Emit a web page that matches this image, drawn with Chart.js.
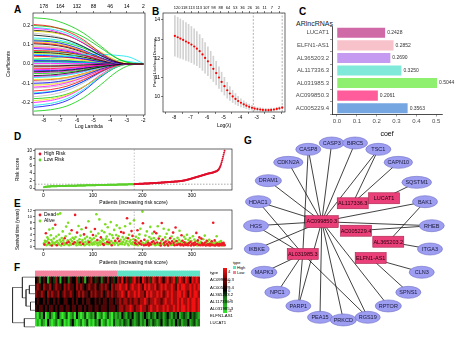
<!DOCTYPE html>
<html>
<head>
<meta charset="utf-8">
<script src="https://cdn.jsdelivr.net/npm/chart.js@4.4.1/dist/chart.umd.min.js"></script>
<style>
  body { margin: 0; width: 474px; height: 342px; position: relative; background: #fff; overflow: hidden;
         font-family: "Liberation Sans", Arial, sans-serif; }
  canvas { position: absolute; }
  .lab { position: absolute; font-weight: bold; font-size: 10px; line-height: 1; }
  .t { position: absolute; font-size: 5px; line-height: 1; white-space: nowrap; color: #000; }
</style>
</head>
<body>
<div class="lab" style="left:14px;top:5px">A</div>
<div class="lab" style="left:152px;top:7px">B</div>
<div class="lab" style="left:299px;top:7px">C</div>
<div class="lab" style="left:14px;top:132px">D</div>
<div class="lab" style="left:14px;top:199px">E</div>
<div class="lab" style="left:14px;top:263px">F</div>
<div class="lab" style="left:244px;top:136px">G</div>
<div class="t" style="left:296px;top:20px;font-size:7px;color:#222">ARlncRNAs</div>

<!-- heatmap colour key and annotation key -->
<div style="position:absolute;left:223px;top:268px;width:4px;height:45px;background:linear-gradient(to bottom,#f01414 0%,#500000 35%,#000 50%,#1c6e1c 65%,#32eb2d 100%)"></div>
<div class="t" style="left:228px;top:270px;font-size:4px">4</div>
<div class="t" style="left:228px;top:280px;font-size:4px">2</div>
<div class="t" style="left:228px;top:289px;font-size:4px">0</div>
<div class="t" style="left:228px;top:299px;font-size:4px">-2</div>
<div class="t" style="left:228px;top:309px;font-size:4px">-4</div>
<div class="t" style="left:233px;top:261px;font-size:4px">type</div>
<div style="position:absolute;left:233px;top:266px;width:3px;height:3px;background:#5fe3c6"></div>
<div class="t" style="left:237px;top:265.5px;font-size:4px">High</div>
<div style="position:absolute;left:233px;top:271px;width:3px;height:3px;background:#f3839c"></div>
<div class="t" style="left:237px;top:270.5px;font-size:4px">Low</div>

<script>
// ---------- A: LASSO coefficient paths ----------
const lambdaSampleA = [-8.6, -7.6, -6.6, -5.6, -4.6, -3.6, -2.8, -2.0];
const lambdaTicksA = [-8, -7, -6, -5, -4, -3, -2];
const topCountsA = ['178', '164', '132', '88', '46', '14', '2'];
const coefPathsA = [
  [0.150, 0.142, 0.125, 0.090, 0.045, 0.010, 0, 0],
  [0.205, 0.196, 0.170, 0.125, 0.060, 0.012, 0, 0],
  [0.240, 0.232, 0.205, 0.160, 0.095, 0.030, 0.005, 0],
  [0.120, 0.116, 0.100, 0.072, 0.035, 0.006, 0, 0],
  [0.025, 0.030, 0.040, 0.048, 0.050, 0.045, 0.035, 0.002],
  [0.185, 0.176, 0.150, 0.108, 0.052, 0.008, 0, 0],
  [0.170, 0.164, 0.146, 0.112, 0.064, 0.018, 0, 0],
  [0.095, 0.090, 0.078, 0.055, 0.026, 0.004, 0, 0],
  [-0.060, -0.057, -0.048, -0.034, -0.016, -0.003, 0, 0],
  [-0.140, -0.133, -0.115, -0.082, -0.040, -0.008, 0, 0],
  [-0.245, -0.238, -0.218, -0.175, -0.110, -0.040, -0.006, 0],
  [-0.100, -0.096, -0.083, -0.060, -0.028, -0.005, 0, 0],
  [-0.215, -0.205, -0.180, -0.132, -0.066, -0.014, 0, 0],
  [-0.030, -0.028, -0.024, -0.016, -0.007, -0.001, 0, 0],
  [-0.080, -0.078, -0.070, -0.052, -0.026, -0.006, 0, 0],
  [-0.170, -0.160, -0.138, -0.098, -0.047, -0.009, 0, 0],
  [0.060, 0.058, 0.050, 0.036, 0.018, 0.003, 0, 0],
  [0.110, 0.104, 0.090, 0.064, 0.030, 0.005, 0, 0],
  [0.200, 0.193, 0.176, 0.140, 0.085, 0.030, 0.006, 0],
  [0.045, 0.043, 0.037, 0.027, 0.012, 0.002, 0, 0],
  [0.135, 0.130, 0.115, 0.088, 0.048, 0.012, 0, 0],
  [-0.120, -0.114, -0.098, -0.070, -0.034, -0.006, 0, 0],
  [-0.190, -0.182, -0.160, -0.118, -0.062, -0.014, 0, 0],
  [0.160, 0.150, 0.128, 0.092, 0.044, 0.008, 0, 0],
  [-0.010, -0.010, -0.008, -0.005, -0.002, 0, 0, 0],
  [0.070, 0.068, 0.060, 0.044, 0.022, 0.004, 0, 0],
  [-0.050, -0.048, -0.042, -0.030, -0.014, -0.002, 0, 0],
  [-0.155, -0.146, -0.126, -0.090, -0.044, -0.008, 0, 0],
  [0.010, 0.010, 0.009, 0.008, 0.012, 0.018, 0.012, 0],
  [0.085, 0.082, 0.071, 0.050, 0.023, 0.004, 0, 0],
  [0.030, 0.029, 0.025, 0.018, 0.008, 0.001, 0, 0],
  [-0.090, -0.086, -0.075, -0.054, -0.026, -0.005, 0, 0],
  [0.105, 0.100, 0.086, 0.060, 0.028, 0.005, 0, 0],
  [-0.025, -0.024, -0.020, -0.014, -0.006, -0.001, 0, 0],
  [0.125, 0.121, 0.108, 0.082, 0.044, 0.010, 0, 0],
  [0.018, 0.017, 0.015, 0.010, 0.005, 0.001, 0, 0],
  [-0.070, -0.067, -0.058, -0.041, -0.019, -0.003, 0, 0],
  [-0.200, -0.190, -0.166, -0.120, -0.058, -0.011, 0, 0],
  [0.055, 0.053, 0.047, 0.034, 0.016, 0.003, 0, 0],
  [-0.125, -0.120, -0.106, -0.078, -0.040, -0.008, 0, 0],
  [-0.040, -0.038, -0.033, -0.023, -0.011, -0.002, 0, 0],
  [0.040, 0.038, 0.034, 0.024, 0.011, 0.002, 0, 0],
  [-0.180, -0.174, -0.156, -0.118, -0.064, -0.016, 0, 0],
  [0.080, 0.076, 0.066, 0.047, 0.022, 0.004, 0, 0],
  [-0.150, -0.143, -0.125, -0.090, -0.044, -0.008, 0, 0],
  [0.003, 0.003, 0.002, 0.002, 0.001, 0, 0, 0],
  [-0.110, -0.106, -0.093, -0.068, -0.033, -0.006, 0, 0],
  [-0.018, -0.017, -0.015, -0.010, -0.005, -0.001, 0, 0],
  [0.175, 0.168, 0.148, 0.108, 0.054, 0.010, 0, 0],
  [-0.085, -0.081, -0.070, -0.050, -0.024, -0.004, 0, 0],
  [0.065, 0.064, 0.058, 0.044, 0.024, 0.006, 0, 0],
  [-0.225, -0.215, -0.190, -0.140, -0.070, -0.015, 0, 0],
  [0.190, 0.182, 0.160, 0.118, 0.060, 0.012, 0, 0],
  [-0.045, -0.043, -0.037, -0.026, -0.012, -0.002, 0, 0],
  [0.115, 0.110, 0.096, 0.068, 0.032, 0.006, 0, 0],
  [-0.005, -0.005, -0.004, -0.003, -0.001, 0, 0, 0],
  [0.012, 0.012, 0.010, 0.007, 0.003, 0, 0, 0],
  [-0.015, -0.014, -0.012, -0.008, -0.004, 0, 0, 0],
  [0.022, 0.021, 0.018, 0.013, 0.006, 0.001, 0, 0],
  [-0.035, -0.034, -0.029, -0.020, -0.009, -0.001, 0, 0],
  [0.050, 0.048, 0.042, 0.030, 0.014, 0.002, 0, 0],
  [-0.065, -0.062, -0.054, -0.038, -0.018, -0.003, 0, 0],
  [0.090, 0.086, 0.075, 0.053, 0.025, 0.004, 0, 0],
  [-0.105, -0.100, -0.087, -0.062, -0.030, -0.005, 0, 0]
];

// ---------- B: cross-validation curve ----------
const lambdaB = [-7.95, -7.78, -7.62, -7.45, -7.28, -7.12, -6.95, -6.78, -6.62, -6.45,
  -6.28, -6.12, -5.95, -5.78, -5.62, -5.45, -5.28, -5.12, -4.95, -4.78,
  -4.62, -4.45, -4.28, -4.12, -3.95, -3.78, -3.62, -3.45, -3.28, -3.12,
  -2.95, -2.78, -2.62, -2.45, -2.28, -2.12, -1.95, -1.78, -1.62, -1.45];
const cvmB = [13.17, 13.10, 13.03, 12.96, 12.88, 12.81, 12.72, 12.62, 12.51, 12.38,
  12.21, 12.03, 11.85, 11.66, 11.46, 11.24, 11.01, 10.78, 10.56, 10.35,
  10.18, 10.03, 9.90, 9.79, 9.70, 9.62, 9.55, 9.49, 9.44, 9.40,
  9.37, 9.35, 9.33, 9.32, 9.32, 9.33, 9.35, 9.38, 9.41, 9.45];
const cvsdB = [1.05, 1.04, 1.02, 1.00, 0.98, 0.96, 0.94, 0.92, 0.89, 0.86,
  0.83, 0.79, 0.75, 0.71, 0.66, 0.61, 0.56, 0.51, 0.46, 0.41,
  0.36, 0.32, 0.28, 0.24, 0.21, 0.18, 0.16, 0.14, 0.12, 0.11,
  0.10, 0.10, 0.09, 0.09, 0.09, 0.09, 0.08, 0.08, 0.08, 0.08];
const lambdaMinB = -3.2;
const lambda1seB = -1.45;
const lambdaTicksB = [-8, -7, -6, -5, -4, -3, -2];
const devianceTicksB = [10, 11, 12, 13, 14];
const topPosB = [-7.82, -7.38, -6.94, -6.50, -6.05, -5.61, -5.17, -4.73, -4.29, -3.85, -3.41, -2.96, -2.52, -2.08, -1.64];
const topCountsB = ['120', '118', '113', '113', '107', '98', '88', '64', '53', '36', '26', '16', '11', '7', '2'];

// ---------- C: coefficients of the signature ----------
const lncNames = ['LUCAT1', 'ELFN1-AS1', 'AL365203.2', 'AL117336.3', 'AL031985.3', 'AC099850.3', 'AC005229.4'];
const coefValues = [0.2428, 0.2852, 0.2690, 0.3250, 0.5044, 0.2061, 0.3563];
const lncColors = ['#d06aa6', '#f8c2cb', '#c49bf0', '#80e9d9', '#8ff06f', '#ff5c9c', '#76a6e2'];
const coefTicks = [0, 0.1, 0.2, 0.3, 0.4, 0.5];

// ---------- D: sorted risk score ----------
const riskLow = [
  0.18, 0.24, 0.28, 0.31, 0.33, 0.35, 0.37, 0.38, 0.39, 0.40,
  0.41, 0.42, 0.43, 0.43, 0.44, 0.45, 0.45, 0.46, 0.46, 0.47,
  0.47, 0.48, 0.48, 0.49, 0.49, 0.50, 0.50, 0.51, 0.51, 0.51,
  0.52, 0.52, 0.53, 0.53, 0.53, 0.54, 0.54, 0.55, 0.55, 0.55,
  0.56, 0.56, 0.56, 0.57, 0.57, 0.57, 0.58, 0.58, 0.58, 0.59,
  0.59, 0.59, 0.60, 0.60, 0.60, 0.61, 0.61, 0.61, 0.62, 0.62,
  0.62, 0.63, 0.63, 0.63, 0.64, 0.64, 0.64, 0.65, 0.65, 0.65,
  0.66, 0.66, 0.66, 0.67, 0.67, 0.67, 0.68, 0.68, 0.68, 0.69,
  0.69, 0.69, 0.70, 0.70, 0.70, 0.71, 0.71, 0.71, 0.72, 0.72,
  0.72, 0.73, 0.73, 0.73, 0.74, 0.74, 0.74, 0.75, 0.75, 0.75,
  0.76, 0.76, 0.76, 0.77, 0.77, 0.77, 0.78, 0.78, 0.78, 0.79,
  0.79, 0.79, 0.80, 0.80, 0.80, 0.80, 0.81, 0.81, 0.81, 0.82,
  0.82, 0.82, 0.83, 0.83, 0.83, 0.84, 0.84, 0.84, 0.85, 0.85,
  0.85, 0.86, 0.86, 0.86, 0.87, 0.87, 0.87, 0.88, 0.88, 0.88,
  0.89, 0.89, 0.89, 0.90, 0.90, 0.90, 0.91, 0.91, 0.91, 0.92,
  0.92, 0.92, 0.93, 0.93, 0.93, 0.94, 0.94, 0.94, 0.95, 0.95,
  0.95, 0.96, 0.96, 0.96, 0.97, 0.97, 0.97, 0.98, 0.98, 0.98,
  0.99, 0.99, 0.99, 1.00, 1.00, 1.00, 1.01, 1.01, 1.01, 1.02,
  1.02, 1.02, 1.03
];
const riskHigh = [
  1.04, 1.05, 1.06, 1.07, 1.08, 1.09, 1.10, 1.10, 1.11, 1.12,
  1.13, 1.13, 1.14, 1.15, 1.15, 1.16, 1.17, 1.17, 1.18, 1.19,
  1.19, 1.20, 1.21, 1.21, 1.22, 1.23, 1.23, 1.24, 1.25, 1.25,
  1.26, 1.27, 1.27, 1.28, 1.29, 1.30, 1.30, 1.31, 1.32, 1.33,
  1.33, 1.34, 1.35, 1.36, 1.37, 1.38, 1.38, 1.39, 1.40, 1.41,
  1.42, 1.43, 1.44, 1.45, 1.46, 1.47, 1.48, 1.49, 1.50, 1.51,
  1.52, 1.53, 1.54, 1.55, 1.56, 1.57, 1.58, 1.59, 1.60, 1.61,
  1.62, 1.63, 1.64, 1.65, 1.66, 1.67, 1.68, 1.69, 1.70, 1.71,
  1.72, 1.73, 1.74, 1.75, 1.76, 1.77, 1.78, 1.79, 1.80, 1.81,
  1.82, 1.84, 1.86, 1.88, 1.90, 1.92, 1.94, 1.96, 1.98, 2.00,
  2.03, 2.06, 2.09, 2.12, 2.15, 2.18, 2.21, 2.24, 2.27, 2.30,
  2.34, 2.38, 2.42, 2.46, 2.50, 2.54, 2.58, 2.62, 2.66, 2.70,
  2.74, 2.78, 2.82, 2.86, 2.90, 2.94, 2.98, 3.02, 3.06, 3.10,
  3.14, 3.18, 3.22, 3.26, 3.30, 3.34, 3.38, 3.42, 3.46, 3.50,
  3.54, 3.58, 3.62, 3.66, 3.70, 3.74, 3.78, 3.82, 3.86, 3.90,
  3.93, 3.96, 3.99, 4.02, 4.05, 4.08, 4.11, 4.14, 4.17, 4.20,
  4.28, 4.32, 4.36, 4.40, 4.45, 4.50, 4.56, 4.63, 4.72, 4.84,
  5.00, 5.20, 5.45, 5.75, 6.10, 6.50, 6.95, 7.40, 7.90, 8.45,
  9.00, 9.55, 10.10
];
const riskCutoff = 1.03;
const riskTicks = [0, 2, 4, 6, 8, 10];
const patientTicks = [0, 100, 200, 300];

// ---------- E: survival time and status (D = dead, A = alive) ----------
const survivalYears = [
  1.2, 0.8, 2.1, 1.5, 4.6, 0.6, 1.9, 3.2, 0.9, 2.6, 1.4, 5.8, 0.7, 1.1, 3.9, 2.3, 0.5, 1.7, 6.2, 1.0,
  2.8, 1.3, 0.9, 7.4, 1.6, 3.5, 0.6, 2.0, 10.9, 1.2, 4.1, 0.8, 2.4, 11.2, 1.8, 0.5, 3.0, 1.1, 5.2, 2.2,
  1.5, 0.7, 2.9, 1.0, 3.6, 6.8, 1.4, 0.9, 2.2, 8.1, 1.7, 0.6, 4.4, 1.3, 2.5, 0.8, 5.6, 1.9, 3.1, 1.1,
  0.9, 2.7, 1.6, 10.7, 3.3, 1.2, 0.6, 4.8, 2.0, 1.4, 7.0, 0.8, 2.6, 1.5, 3.8, 0.7, 5.9, 1.8, 2.3, 1.0,
  1.3, 4.2, 0.6, 2.8, 1.7, 6.4, 0.9, 3.4, 1.1, 2.1, 8.6, 1.6, 0.7, 3.0, 1.9, 5.1, 1.2, 2.5, 0.8, 4.0,
  1.5, 2.9, 0.9, 6.0, 1.8, 3.7, 10.9, 1.2, 2.3, 0.6, 4.5, 1.4, 9.2, 2.0, 0.8, 3.2, 1.6, 5.4, 2.6, 1.0,
  2.2, 0.7, 4.9, 1.3, 7.6, 2.7, 1.0, 3.5, 1.7, 6.6, 0.9, 2.4, 1.5, 4.3, 1.1, 8.3, 2.0, 0.6, 3.9, 1.4,
  3.0, 1.2, 5.7, 0.8, 2.1, 1.6, 4.0, 7.2, 1.3, 2.8, 0.7, 3.6, 1.9, 6.3, 1.0, 2.4, 5.0, 1.5, 0.9, 3.3,
  1.7, 4.7, 2.5, 0.8, 6.9, 1.4, 3.1, 2.0, 9.6, 1.1, 2.9, 0.6, 4.1, 1.8, 7.8, 2.3, 1.2, 5.3, 0.9, 3.7,
  1.6, 2.6, 8.9, 0.7, 1.3, 2.2, 3.4, 0.9, 1.8, 5.6, 0.6, 2.9, 1.4, 4.2, 1.1, 6.1, 2.0, 0.8, 1.5, 11.8,
  7.9, 1.2, 0.6, 2.4, 1.0, 3.8, 0.7, 1.7, 5.2, 0.9, 2.1, 1.4, 0.5, 3.3, 1.1, 6.7, 0.8, 2.7, 1.6, 4.5,
  0.9, 1.9, 3.0, 5.1, 1.2, 0.6, 2.3, 4.6, 0.8, 1.5, 6.9, 1.0, 2.8, 0.7, 3.6, 1.3, 0.5, 2.0, 8.0, 1.1,
  2.5, 0.9, 6.1, 1.4, 0.6, 3.2, 1.8, 0.8, 4.4, 1.1, 2.2, 0.5, 5.7, 1.6, 0.9, 2.9, 1.2, 0.7, 3.5, 1.9,
  0.8, 4.8, 1.3, 2.6, 0.6, 1.7, 6.5, 1.0, 2.0, 0.7, 3.1, 1.5, 0.9, 2.4, 5.4, 1.1, 0.6, 1.8, 3.9, 0.8,
  2.1, 1.2, 0.5, 3.4, 1.6, 0.9, 2.7, 0.7, 1.4, 4.1, 1.0, 0.6, 2.3, 1.3, 0.8, 3.0, 1.7, 0.5, 2.0, 1.1,
  0.9, 3.6, 1.2, 0.6, 2.5, 1.5, 0.8, 1.9, 4.7, 1.0, 0.5, 2.2, 1.4, 0.7, 3.2, 1.1, 0.6, 1.7, 2.8, 0.9,
  1.3, 0.6, 2.6, 1.0, 0.8, 3.8, 1.5, 0.5, 1.2, 2.1, 0.7, 1.8, 0.9, 0.6, 2.4, 1.1, 0.5, 1.4, 0.8, 1.9,
  0.7, 1.3, 8.1, 0.6, 1.0, 2.2, 0.5, 1.6, 0.8, 3.6, 1.1, 0.6, 1.4, 0.9, 0.5, 1.7, 1.0, 0.7, 2.0, 0.6,
  1.2, 0.8, 0.5, 1.4, 0.9, 0.6
];
const survivalStatus =
  'ADAADAAAAADAAAAADAAA' + 'AAADAADAAAAAAAAAADAA' + 'AADAAADAAADAAAAADAAD' + 'AADDAAADAAAAADAAAAAD' +
  'ADAAADAAAAADAAAAAAAD' + 'AAADAAAADAAAAAADAAAD' + 'ADAAAAAADAAADAAAADAA' + 'AAAADAAAADAADAAADAAA' +
  'ADAAAAAADADAAAAAADAD' + 'AAAADDADADAADADADDAA' + 'DADDAADAADADDADADADA' + 'ADADDAADADAADAADDADA' +
  'DAADDADAADADADADDAAD' + 'ADDADADADDAADAADDADD' + 'DADADDADAADDADAADDAD' + 'DADDADDADDADADDADADD' +
  'DDADDADDADDADDADDADD' + 'DADDADDADADDADDADDAD' + 'DDADDD';
const survivalTicks = [0, 2, 4, 6, 8, 10, 12];

// ---------- F: expression heatmap (rows top to bottom) ----------
const heatRowNames = ['AC099850.3', 'AC005229.4', 'AL365203.2', 'AL117336.3', 'AL031985.3', 'ELFN1-AS1', 'LUCAT1'];
const heatRows = [
  [0, 1, -2, 0, 1, 0, -3, 1, 0, -1, 2, 0, -3, 0, 1, 0, -2, 1, 0, 0, 2, -1, 0, 1, -3, 0, 1, 2, 0, -1, 1, 0, -2, 1, 0, 2, 0, 1, -1, 0,
   2, 1, 3, 0, 2, 1, -1, 2, 3, 1, 2, 0, 3, 2, 1, 2, -1, 3, 2, 1, 3, 2, 0, 2, 3, 1, 2, 3, -1, 2, 3, 2, 1, 3, 2, 0, 3, 2, 3, 2],
  [1, 2, 1, 0, 2, 1, 1, 2, 0, 1, 2, 1, 1, 0, 2, 1, 2, 1, 1, 0, 2, 1, 2, 1, 0, 1, 2, 1, 1, 2, 0, 1, 2, 1, 2, 1, 0, 2, 1, 2,
   2, 3, 2, 2, 3, 1, 2, 3, 2, 2, 3, 2, 1, 3, 2, 3, 2, 2, 3, 1, 2, 3, 2, 3, 2, 2, 3, 2, 1, 3, 2, 3, 3, 2, 2, 3, 2, 3, 2, 3],
  [2, 1, 1, 2, 1, 0, 2, 1, 2, 1, 1, 2, 0, 1, 2, 1, 1, 2, 1, 0, 1, 2, 1, 2, 1, 1, 0, 2, 1, 2, 1, 1, 2, 0, 1, 2, 1, 2, 1, 1,
   2, 2, 3, 2, 1, 3, 2, 2, 3, 2, 3, 2, 2, 1, 3, 2, 3, 2, 2, 3, 2, 3, 1, 2, 3, 2, 3, 2, 2, 3, 3, 2, 3, 2, 1, 3, 2, 3, 3, 2],
  [0, 1, 0, 0, 1, 0, 1, 0, 0, 1, 0, 1, 0, 0, 1, 1, 0, 0, 1, 0, 1, 0, 0, 1, 0, 1, 1, 0, 0, 1, 0, 1, 0, 1, 1, 0, 1, 1, 0, 1,
   1, 2, 1, 2, 2, 1, 2, 1, 2, 2, 1, 2, 2, 3, 2, 1, 2, 2, 3, 2, 2, 1, 2, 3, 2, 2, 3, 2, 2, 3, 2, 3, 2, 2, 3, 2, 3, 3, 2, 3],
  [1, 0, 1, 1, 0, 1, 0, 1, 1, 0, 1, 0, 1, 1, 0, 1, 1, 0, 1, 1, 0, 1, 1, 0, 1, 0, 1, 1, 0, 1, 1, 0, 1, 1, 1, 0, 1, 1, 1, 0,
   1, 2, 2, 1, 2, 2, 3, 2, 1, 2, 2, 3, 2, 2, 1, 2, 3, 2, 2, 3, 2, 2, 3, 2, 3, 2, 2, 3, 2, 3, 2, 3, 3, 2, 3, 2, 3, 3, 2, 3],
  [-3, -4, -2, -3, 0, -4, -3, -1, -3, -4, -2, 0, -3, -4, -3, -1, -4, -3, -2, -4, 0, -3, -4, -3, -1, -4, -3, -2, -3, 0, -4, -3, -2, -4, -3, -1, -3, -4, -2, -3,
   -2, -3, 0, -2, -3, -1, -2, 0, -3, -2, -1, -3, -2, 0, -2, -3, -1, -2, -3, 0, -2, -1, -3, -2, 0, -2, -3, -1, -2, 0, -3, -2, -1, -2, -3, 0, -2, -1, -2, -3],
  [-4, -3, -4, -2, -3, -4, 0, -3, -4, -3, -2, -4, -3, -1, -4, -3, -4, -2, 0, -3, -4, -3, -2, -4, -3, -1, -4, -3, -4, -2, -3, 0, -4, -3, -2, -4, -3, -4, -1, -3,
   -3, -2, -3, -1, -2, -3, 0, -2, -3, -2, -1, -3, -2, -3, 0, -2, -3, -1, -2, -3, -2, 0, -3, -2, -1, -3, -2, -3, 0, -2, -1, -3, -2, -2, 0, -3, -2, -1, -3, -2]
];
const lowRiskColumns = 40;  // first half of the ordered patients
// row dendrogram: leaves 0..6, merge k gets id 7 + k
const mergeLeft = [1, 3, 7, 0, 5, 10];
const mergeRight = [2, 4, 8, 9, 6, 11];
const mergeHeight = [2.0, 1.6, 3.2, 4.5, 3.8, 8.0];

// ---------- G: lncRNA - gene network (layout units) ----------
const geneNames = ['CASP3', 'BIRC5', 'CASP8', 'TSC1', 'CDKN2A', 'CAPN10', 'DRAM1', 'SQSTM1', 'HDAC1', 'BAK1', 'HGS', 'RHEB',
  'IKBKE', 'ITGA3', 'MAPK3', 'CLN3', 'NPC1', 'SPNS1', 'PARP1', 'RPTOR', 'PEA15', 'PRKCD', 'RGS19'];
const geneX = [-0.14, 0.125, -0.406, 0.39, -0.633, 0.617, -0.86, 0.826, -0.974, 0.92, -1.0, 0.997,
  -0.992, 0.977, -0.909, 0.883, -0.758, 0.731, -0.519, 0.503, -0.273, -0.008, 0.269];
const geneY = [1.0, 1.0, 0.928, 0.928, 0.78, 0.78, 0.572, 0.553, 0.333, 0.333, 0.06, 0.06,
  -0.205, -0.205, -0.469, -0.469, -0.697, -0.697, -0.852, -0.852, -0.981, -1.011, -0.981];
const netLncNames = ['AC099850.3', 'AL117336.3', 'LUCAT1', 'AC005229.4', 'AL365203.2', 'AL031985.3', 'ELFN1-AS1'];
const netLncX = [-0.253, 0.099, 0.455, 0.136, 0.503, -0.469, 0.303];
const netLncY = [0.106, 0.315, 0.372, 0.003, -0.122, -0.261, -0.307];
const edgeFrom = [
  'AC099850.3', 'AC099850.3', 'AC099850.3', 'AC099850.3', 'AC099850.3', 'AC099850.3', 'AC099850.3', 'AC099850.3',
  'AC099850.3', 'AC099850.3', 'AC099850.3', 'AC099850.3', 'AC099850.3', 'AC099850.3', 'AC099850.3', 'AC099850.3',
  'AL117336.3', 'AL117336.3', 'LUCAT1', 'AC005229.4', 'AL365203.2', 'AL365203.2', 'ELFN1-AS1', 'ELFN1-AS1',
  'AL031985.3', 'AL031985.3', 'AL031985.3', 'AL031985.3', 'AL031985.3', 'AL031985.3', 'AL031985.3'];
const edgeTo = [
  'CASP8', 'CASP3', 'BIRC5', 'TSC1', 'CDKN2A', 'DRAM1', 'HDAC1', 'HGS',
  'RHEB', 'BAK1', 'IKBKE', 'PARP1', 'PEA15', 'PRKCD', 'RGS19', 'RPTOR',
  'TSC1', 'CAPN10', 'SQSTM1', 'RHEB', 'BAK1', 'ITGA3', 'CLN3', 'SPNS1',
  'HDAC1', 'HGS', 'MAPK3', 'NPC1', 'PARP1', 'RGS19', 'CASP8'];

// ================= drawing =================
const FONT = '"Liberation Sans", Arial, sans-serif';
Chart.defaults.font.family = FONT;
Chart.defaults.font.size = 5;
Chart.defaults.color = '#000';
Chart.defaults.animation = false;
Chart.defaults.responsive = false;
Chart.defaults.plugins.legend.display = false;
Chart.defaults.plugins.tooltip.enabled = false;

function makeCanvas(left, top, w, h) {
  const c = document.createElement('canvas');
  c.width = w; c.height = h;
  c.style.left = left + 'px'; c.style.top = top + 'px';
  c.style.width = w + 'px'; c.style.height = h + 'px';
  document.body.appendChild(c);
  return c.getContext('2d');
}

function fixedSize(size) {
  return function (scale) {
    if (scale.isHorizontal()) scale.height = size; else scale.width = size;
  };
}

function fixedTicks(values) {
  return function (scale) { scale.ticks = values.map(v => ({ value: v })); };
}

function tickStyle(size, extra) {
  return Object.assign({ font: { size: size }, padding: 1, color: '#000', autoSkip: false, maxRotation: 0, minRotation: 0 }, extra || {});
}

// base-graphics style axis
function rAxis(extra) {
  return Object.assign({
    type: 'linear',
    grid: { drawOnChartArea: false, tickLength: 2, color: '#000', lineWidth: 0.5 },
    border: { display: false },
    ticks: tickStyle(5)
  }, extra);
}

// box around the plotting region
const framePlugin = {
  id: 'frame',
  afterDraw(chart) {
    const a = chart.chartArea, ctx = chart.ctx;
    ctx.save();
    ctx.strokeStyle = '#000';
    ctx.lineWidth = 0.6;
    ctx.strokeRect(a.left, a.top, a.right - a.left, a.bottom - a.top);
    ctx.restore();
  }
};

// small legend inside the plot
function insetLegend(items) {
  return {
    id: 'insetLegend',
    afterDraw(chart) {
      const a = chart.chartArea, ctx = chart.ctx;
      ctx.save();
      ctx.font = '5px ' + FONT;
      ctx.textBaseline = 'middle';
      items.forEach((it, i) => {
        const y = a.top + 5 + i * 6;
        ctx.fillStyle = it.color;
        ctx.beginPath();
        ctx.arc(a.left + 5, y, 1.4, 0, Math.PI * 2);
        ctx.fill();
        ctx.fillStyle = '#000';
        ctx.fillText(it.text, a.left + 9, y);
      });
      ctx.restore();
    }
  };
}

// --- A ---
const pathColorsA = ['#000000', '#FF0000', '#00CD00', '#0000FF', '#00E5EE', '#FF00FF', '#EEDD00', '#BEBEBE'];
new Chart(makeCanvas(0, 0, 150, 135), {
  type: 'scatter',
  data: {
    datasets: coefPathsA.map((path, i) => ({
      data: path.map((v, j) => ({ x: lambdaSampleA[j], y: v })),
      showLine: true,
      borderColor: pathColorsA[i % pathColorsA.length],
      borderWidth: 0.8,
      pointRadius: 0,
      cubicInterpolationMode: 'monotone'
    }))
  },
  options: {
    layout: { padding: { left: 5, right: 5 } },
    scales: {
      x: rAxis({ position: 'bottom', min: -8.65, max: -1.9, afterFit: fixedSize(20), afterBuildTicks: fixedTicks(lambdaTicksA),
        title: { display: true, text: 'Log Lambda', font: { size: 5 }, padding: { top: 1, bottom: 5 } } }),
      xTop: rAxis({ position: 'top', min: -8.65, max: -1.9, afterFit: fixedSize(13), afterBuildTicks: fixedTicks(lambdaTicksA),
        ticks: tickStyle(5, { callback: (v, i) => topCountsA[i] }) }),
      y: rAxis({ min: -0.265, max: 0.265, afterFit: fixedSize(28), afterBuildTicks: fixedTicks([-0.2, -0.1, 0, 0.1, 0.2]),
        ticks: tickStyle(5, { callback: v => v.toFixed(1) }),
        title: { display: true, text: 'Coefficients', font: { size: 5 }, padding: 1 } })
    }
  },
  plugins: [framePlugin]
});

// --- B ---
const yMinB = 9.22, yMaxB = 14.36;
new Chart(makeCanvas(150, 0, 150, 135), {
  type: 'scatter',
  data: {
    datasets: [
      { data: lambdaB.map((l, i) => ({ x: l, y: cvmB[i] })), pointRadius: 1.1, pointBorderWidth: 0,
        pointBackgroundColor: '#ff0000', order: 0 },
      { type: 'bar', data: lambdaB.map((l, i) => ({ x: l, y: [cvmB[i] - cvsdB[i], cvmB[i] + cvsdB[i]] })),
        backgroundColor: '#d2d2d2', barThickness: 1, grouped: false, order: 2 },
      { type: 'line', data: [{ x: lambdaMinB, y: yMinB }, { x: lambdaMinB, y: yMaxB }], borderColor: '#808080',
        borderWidth: 0.6, borderDash: [2, 1.5], pointRadius: 0, order: 1 },
      { type: 'line', data: [{ x: lambda1seB, y: yMinB }, { x: lambda1seB, y: yMaxB }], borderColor: '#808080',
        borderWidth: 0.6, borderDash: [2, 1.5], pointRadius: 0, order: 1 }
    ]
  },
  options: {
    layout: { padding: { left: 2, right: 15 } },
    scales: {
      x: rAxis({ position: 'bottom', min: -8.67, max: -1.28, afterFit: fixedSize(23), afterBuildTicks: fixedTicks(lambdaTicksB),
        offset: false,
        title: { display: true, text: 'Log(\u03bb)', font: { size: 5 }, padding: { top: 1, bottom: 6 } } }),
      xTop: rAxis({ position: 'top', min: -8.67, max: -1.28, afterFit: fixedSize(13), afterBuildTicks: fixedTicks(topPosB),
        ticks: tickStyle(4, { callback: (v, i) => topCountsB[i] }) }),
      y: rAxis({ min: yMinB, max: yMaxB, afterFit: fixedSize(11), afterBuildTicks: fixedTicks(devianceTicksB),
        title: { display: true, text: 'Partial Likelihood Deviance', font: { size: 4 }, padding: 0 } })
    }
  },
  plugins: [framePlugin]
});

// --- C ---
const barValues = {
  id: 'barValues',
  afterDatasetsDraw(chart) {
    const ctx = chart.ctx, meta = chart.getDatasetMeta(0);
    ctx.save();
    ctx.font = '5px ' + FONT;
    ctx.fillStyle = '#333';
    ctx.textBaseline = 'middle';
    meta.data.forEach((bar, i) => ctx.fillText(coefValues[i].toFixed(4), bar.x + 2, bar.y));
    ctx.restore();
  }
};
new Chart(makeCanvas(290, 14, 184, 124), {
  type: 'bar',
  data: { labels: lncNames, datasets: [{ data: coefValues, backgroundColor: lncColors, barPercentage: 0.8, categoryPercentage: 1 }] },
  options: {
    indexAxis: 'y',
    layout: { padding: { top: 12.5, right: 32 } },
    scales: {
      x: { type: 'linear', min: -0.0252, max: 0.5296, afterFit: fixedSize(23.5), afterBuildTicks: fixedTicks(coefTicks),
        grid: { drawOnChartArea: false, tickLength: 2, color: '#333', lineWidth: 0.5 },
        border: { display: true, color: '#000', width: 0.7 },
        ticks: tickStyle(6, { color: '#4d4d4d', callback: v => v.toFixed(1) }),
        title: { display: true, text: 'coef', font: { size: 7 }, color: '#000', padding: { top: 0, bottom: 0 } } },
      y: { afterFit: fixedSize(42),
        grid: { drawOnChartArea: false, tickLength: 2, color: '#333', lineWidth: 0.5 },
        border: { display: true, color: '#000', width: 0.7 },
        ticks: tickStyle(6, { color: '#4d4d4d' }) }
    }
  },
  plugins: [barValues]
});

// --- D ---
const highColor = '#e0102c', lowColor = '#5ccf2a';
const firstHigh = riskLow.length + 1;
new Chart(makeCanvas(0, 140, 240, 70), {
  type: 'scatter',
  data: {
    datasets: [
      { data: riskHigh.map((v, i) => ({ x: firstHigh + i, y: v })), pointRadius: 1, pointBorderWidth: 0, pointBackgroundColor: highColor },
      { data: riskLow.map((v, i) => ({ x: i + 1, y: v })), pointRadius: 1, pointBorderWidth: 0, pointBackgroundColor: lowColor },
      { type: 'line', data: [{ x: riskLow.length + 0.5, y: -0.54 }, { x: riskLow.length + 0.5, y: 10.54 }],
        borderColor: '#888', borderWidth: 0.5, borderDash: [1.5, 1.5], pointRadius: 0 },
      { type: 'line', data: [{ x: -17, y: riskCutoff }, { x: 381, y: riskCutoff }],
        borderColor: '#555', borderWidth: 0.5, borderDash: [1.5, 1.5], pointRadius: 0 }
    ]
  },
  options: {
    layout: { padding: { left: 14, right: 8, top: 9 } },
    scales: {
      x: rAxis({ min: -17, max: 381, afterFit: fixedSize(20), afterBuildTicks: fixedTicks(patientTicks),
        title: { display: true, text: 'Patients (increasing risk score)', font: { size: 5 }, padding: { top: 1, bottom: 4 } } }),
      y: rAxis({ min: -0.54, max: 10.54, afterFit: fixedSize(21), afterBuildTicks: fixedTicks(riskTicks),
        ticks: tickStyle(4.5),
        title: { display: true, text: 'Risk score', font: { size: 5 }, padding: 1 } })
    }
  },
  plugins: [framePlugin, insetLegend([{ text: 'High Risk', color: highColor }, { text: 'Low Risk', color: lowColor }])]
});

// --- E ---
const deadColor = '#ee1c24', aliveColor = '#7ddc22';
const deadPts = [], alivePts = [];
survivalYears.forEach((t, i) => {
  (survivalStatus[i] === 'D' ? deadPts : alivePts).push({ x: i + 1, y: t });
});
new Chart(makeCanvas(0, 205, 240, 64), {
  type: 'scatter',
  data: {
    datasets: [
      { data: deadPts, pointRadius: 1.3, pointBorderWidth: 0, pointBackgroundColor: deadColor },
      { data: alivePts, pointRadius: 1.3, pointBorderWidth: 0, pointBackgroundColor: aliveColor },
      { type: 'line', data: [{ x: riskLow.length + 0.5, y: -0.67 }, { x: riskLow.length + 0.5, y: 12.33 }],
        borderColor: '#777', borderWidth: 0.5, borderDash: [1.5, 1.5], pointRadius: 0 }
    ]
  },
  options: {
    layout: { padding: { left: 14, right: 8, top: 5 } },
    scales: {
      x: rAxis({ min: -17, max: 381, afterFit: fixedSize(20), afterBuildTicks: fixedTicks(patientTicks),
        title: { display: true, text: 'Patients (increasing risk score)', font: { size: 5 }, padding: { top: 1, bottom: 3 } } }),
      y: rAxis({ min: -0.67, max: 12.33, afterFit: fixedSize(21), afterBuildTicks: fixedTicks(survivalTicks),
        ticks: tickStyle(4),
        title: { display: true, text: 'Survival time (years)', font: { size: 4.5 }, padding: 1 } })
    }
  },
  plugins: [framePlugin, insetLegend([{ text: 'Dead', color: deadColor }, { text: 'Alive', color: aliveColor }])]
});

// --- F: heatmap as stacked one-unit bars ---
function heatColor(v) {
  if (v >= 0) {
    const t = Math.min(v / 3, 1);
    return `rgb(${Math.round(240 * t)},${Math.round(18 * t)},${Math.round(18 * t)})`;
  }
  const t = Math.min(-v / 4, 1);
  return `rgb(${Math.round(55 * t)},${Math.round(235 * t)},${Math.round(45 * t)})`;
}
const nCols = Math.max(...heatRows.map(r => r.length));
const colLabels = Array.from({ length: nCols }, (_, i) => i + 1);
const cellH = 1, gapH = 0.12, typeH = 0.75;
const heatDatasets = [];
for (let r = heatRows.length - 1; r >= 0; r--) {
  heatDatasets.push({ data: colLabels.map(() => cellH), backgroundColor: heatRows[r].map(heatColor), borderWidth: 0 });
}
heatDatasets.push({ data: colLabels.map(() => gapH), backgroundColor: 'rgba(0,0,0,0)', borderWidth: 0 });
heatDatasets.push({ data: colLabels.map(() => typeH), backgroundColor: colLabels.map(c => c <= lowRiskColumns ? '#f3839c' : '#5fe3c6'), borderWidth: 0 });
const heatTop = heatRows.length * cellH + gapH + typeH;
const heatTickPos = [heatRows.length * cellH + gapH + typeH / 2].concat(heatRowNames.map((_, i) => heatRows.length - 0.5 - i));
const heatTickText = ['type'].concat(heatRowNames);
new Chart(makeCanvas(35, 266, 205, 65), {
  type: 'bar',
  data: { labels: colLabels, datasets: heatDatasets.map(d => Object.assign(d, { barPercentage: 1, categoryPercentage: 1 })) },
  options: {
    layout: { padding: 0 },
    scales: {
      x: { stacked: true, display: false },
      y: { stacked: true, position: 'right', min: 0, max: heatTop, afterFit: fixedSize(40), afterBuildTicks: fixedTicks(heatTickPos),
        grid: { display: false }, border: { display: false },
        ticks: tickStyle(4.3, { padding: 2, callback: (v, i) => heatTickText[i] }) }
    }
  }
});

// row dendrogram
const leafY = heatRowNames.map((_, i) => heatRows.length - 0.5 - i);
const nodeY = leafY.slice(), nodeH = leafY.map(() => 0);
const dendroSets = mergeLeft.map((a, k) => {
  const b = mergeRight[k], h = mergeHeight[k];
  nodeY.push((nodeY[a] + nodeY[b]) / 2);
  nodeH.push(h);
  return {
    data: [{ x: nodeH[a], y: nodeY[a] }, { x: h, y: nodeY[a] }, { x: h, y: nodeY[b] }, { x: nodeH[b], y: nodeY[b] }],
    showLine: true, borderColor: '#222', borderWidth: 0.6, pointRadius: 0
  };
});
new Chart(makeCanvas(12, 273, 23, 58), {
  type: 'scatter',
  data: { datasets: dendroSets },
  options: {
    layout: { padding: 0 },
    scales: {
      x: { type: 'linear', display: false, reverse: true, min: 0, max: 8.2 },
      y: { type: 'linear', display: false, min: 0, max: heatRows.length }
    }
  }
});

// --- G: network ---
const nodePos = {};
geneNames.forEach((n, i) => { nodePos[n] = { x: geneX[i], y: geneY[i] }; });
netLncNames.forEach((n, i) => { nodePos[n] = { x: netLncX[i], y: netLncY[i] }; });
const networkNodes = {
  id: 'networkNodes',
  afterDatasetsDraw(chart) {
    const ctx = chart.ctx, xs = chart.scales.x, ys = chart.scales.y;
    ctx.save();
    ctx.font = '5.5px ' + FONT;
    ctx.textAlign = 'center';
    ctx.textBaseline = 'middle';
    ctx.lineWidth = 0.6;
    geneNames.forEach((name, i) => {
      const px = xs.getPixelForValue(geneX[i]), py = ys.getPixelForValue(geneY[i]);
      const rx = Math.max(12.5, ctx.measureText(name).width / 2 + 3.5);
      ctx.beginPath();
      ctx.ellipse(px, py, rx, 6, 0, 0, Math.PI * 2);
      ctx.fillStyle = '#9d9df1';
      ctx.fill();
      ctx.strokeStyle = '#6d6dc6';
      ctx.stroke();
      ctx.fillStyle = '#1a1a3a';
      ctx.fillText(name, px, py + 0.3);
    });
    netLncNames.forEach((name, i) => {
      const px = xs.getPixelForValue(netLncX[i]), py = ys.getPixelForValue(netLncY[i]);
      const w = i === 0 ? 33 : 31, h = i === 0 ? 12 : 11;
      ctx.fillStyle = '#ea3f78';
      ctx.fillRect(px - w / 2, py - h / 2, w, h);
      ctx.strokeStyle = '#a8244e';
      ctx.strokeRect(px - w / 2, py - h / 2, w, h);
      ctx.fillStyle = '#2a0010';
      ctx.fillText(name, px, py + 0.3);
    });
    ctx.restore();
  }
};
new Chart(makeCanvas(240, 135, 234, 205), {
  type: 'scatter',
  data: {
    datasets: edgeFrom.map((from, i) => ({
      data: [nodePos[from], nodePos[edgeTo[i]]],
      showLine: true, borderColor: '#111', borderWidth: 0.8, pointRadius: 0
    }))
  },
  options: {
    layout: { padding: 0 },
    scales: {
      x: { type: 'linear', display: false, min: -1.182, max: 1.477 },
      y: { type: 'linear', display: false, min: -1.239, max: 1.091 }
    }
  },
  plugins: [networkNodes]
});
</script>
</body>
</html>
